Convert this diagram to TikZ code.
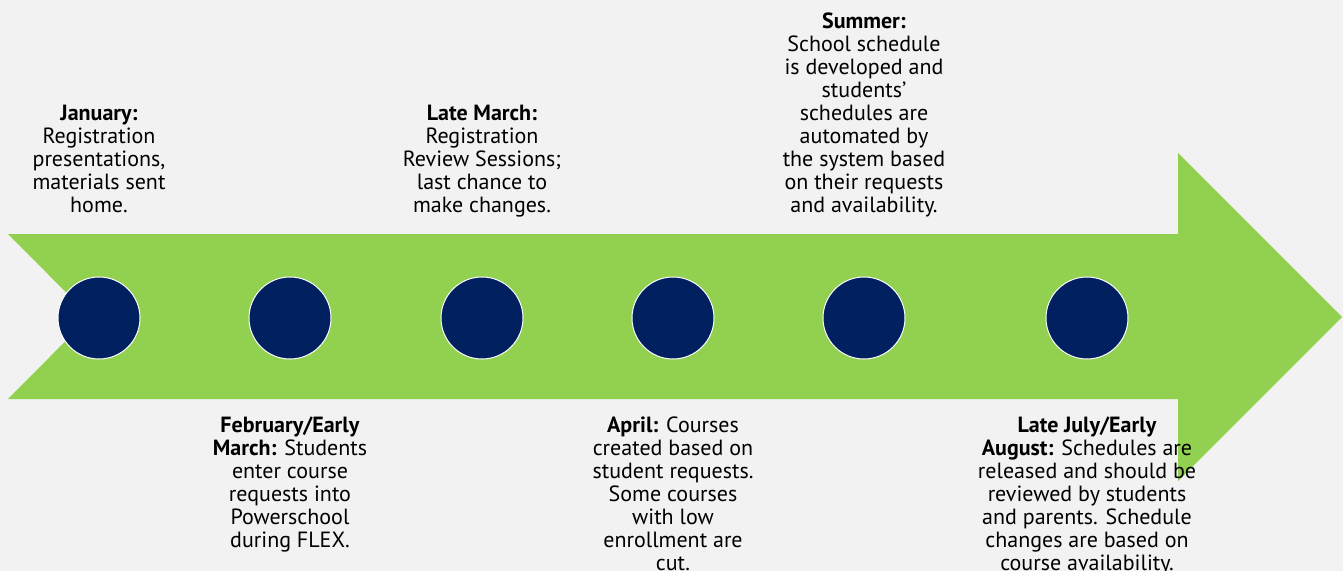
\documentclass[tikz,border=0pt]{standalone}
\usepackage{fontspec}
\setmainfont{PT Sans}
\usetikzlibrary{positioning}

\definecolor{arrowgreen}{HTML}{92D050}
\definecolor{dotblue}{HTML}{002060}
\definecolor{paper}{HTML}{F2F2F2}

\tikzset{
  dot/.style={circle, fill=dotblue, draw=white, line width=0.75pt,
    minimum size=61.5pt, inner sep=0pt},
  note/.style={align=center, inner sep=0pt, text=black,
    font=\fontsize{16.5pt}{17.25pt}\selectfont},
  upnote/.style={note, execute at end node=\strut},
  downnote/.style={note, execute at begin node=\strut},
}

\begin{document}
\begin{tikzpicture}[x=0.75pt, y=-0.75pt, node distance=43pt]
  \fill[paper] (0,0) rectangle (1343,571);
  \useasboundingbox (0,0) rectangle (1343,571);

  % the big arrow
  \fill[arrowgreen] (8,234) -- (1178,234) -- (1178,153) -- (1342,317)
    -- (1178,481) -- (1178,399) -- (8,399) -- (90,316.5) -- cycle;

  \node[dot] (jan) at (99,318) {};
  \node[dot] (feb) at (290,318) {};
  \node[dot] (mar) at (482,318) {};
  \node[dot] (apr) at (673,318) {};
  \node[dot] (sum) at (864,318) {};
  \node[dot] (aug) at (1087,318) {};

  \node[upnote, above=of jan] (jantext) {\textbf{January:}\\Registration\\
    presentations,\\materials sent\\home.};
  \node[downnote, below=of feb] (febtext) {\textbf{February/Early}\\
    \textbf{March:} Students\\enter course\\requests into\\Powerschool\\
    during FLEX.};
  \node[upnote, above=of mar] (martext) {\textbf{Late March:}\\Registration\\
    Review Sessions;\\last chance to\\make changes.};
  \node[downnote, below=of apr] (aprtext) {\textbf{April:} Courses\\
    created based on\\student requests.\\Some courses\\with low\\
    enrollment are\\cut.};
  \node[upnote, above=of sum] (sumtext) {\textbf{Summer:}\\School schedule\\
    is developed and\\students'\\schedules are\\automated by\\
    the system based\\on their requests\\and availability.};
  \node[downnote, below=of aug] (augtext) {\textbf{Late July/Early}\\
    \textbf{August:} Schedules are\\released and should be\\
    reviewed by students\\and parents. Schedule\\changes are based on\\
    course availability.};
\end{tikzpicture}
\end{document}
